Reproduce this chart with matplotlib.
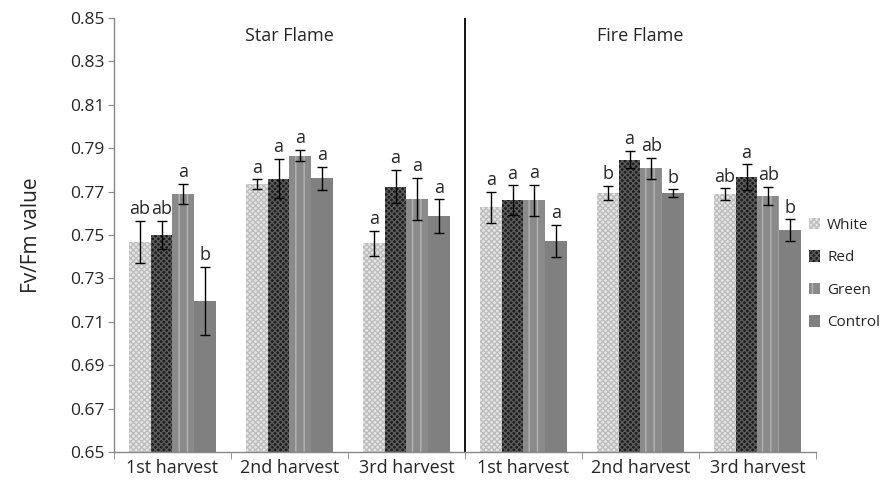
import matplotlib
matplotlib.use("Agg")
import matplotlib.pyplot as plt
import numpy as np

plt.rcParams['font.family'] = ['Open Sans', 'DejaVu Sans']
plt.rcParams['hatch.linewidth'] = 1.0

categories = ["1st harvest", "2nd harvest", "3rd harvest", "1st harvest", "2nd harvest", "3rd harvest"]
series = ["White", "Red", "Green", "Control"]
white = [0.7469, 0.7735, 0.7462, 0.7628, 0.7694, 0.7689]
red = [0.7501, 0.7760, 0.7723, 0.7660, 0.7847, 0.7767]
green = [0.7689, 0.7866, 0.7666, 0.7660, 0.7807, 0.7680]
control = [0.7196, 0.7761, 0.7588, 0.7474, 0.7694, 0.7523]
white_err = [0.0097, 0.0022, 0.0058, 0.0072, 0.0032, 0.0026]
red_err = [0.0065, 0.0090, 0.0077, 0.0069, 0.0040, 0.0059]
green_err = [0.0046, 0.0026, 0.0097, 0.0072, 0.0049, 0.0043]
control_err = [0.0157, 0.0052, 0.0077, 0.0074, 0.0017, 0.0049]
white_let = ["ab", "a", "a", "a", "b", "ab"]
red_let = ["ab", "a", "a", "a", "a", "a"]
green_let = ["a", "a", "a", "a", "ab", "ab"]
control_let = ["b", "a", "a", "a", "b", "b"]
cultivars = ["Star Flame", "Fire Flame"]

vals = [white, red, green, control]
errs = [white_err, red_err, green_err, control_err]
lets = [white_let, red_let, green_let, control_let]
styles = [
    dict(facecolor='#e6e6e6', edgecolor='#bdbdbd', hatch='xxxxxx'),
    dict(facecolor='#1c1c1c', edgecolor='#5a5a5a', hatch='xxxxxx'),
    dict(facecolor='#8a8a8a', edgecolor='#b4b4b4', hatch='||'),
    dict(facecolor='#808080', edgecolor='#808080', hatch=None),
]
txt = '#262626'

fig = plt.figure(figsize=(8.83, 4.87), dpi=100)
ax = fig.add_axes([0.129, 0.072, 0.795, 0.891])

x = np.arange(len(categories))
w = 0.185
for i, (v, e, l, st) in enumerate(zip(vals, errs, lets, styles)):
    pos = x + (i - 1.5) * w
    ax.bar(pos, v, width=w, bottom=0, linewidth=0, label=series[i], **st)
    ax.errorbar(pos, v, yerr=e, fmt='none', ecolor='black', elinewidth=1.0, capsize=3.5, capthick=1.0)
    for p, vv, ee, ll in zip(pos, v, e, l):
        ax.text(p, vv + ee + 0.0012, ll, ha='center', va='bottom', fontsize=13, color=txt)

ticks = np.arange(0.65, 0.8501, 0.02)
ax.set_ylim(0.65, 0.85)
ax.set_xlim(-0.5, len(categories) - 0.5)
ax.set_yticks(ticks)
ax.set_yticklabels([f"{t:.2f}" for t in ticks], fontsize=12.5, color=txt)
ax.set_xticks(x)
ax.set_xticklabels(categories, fontsize=13, color=txt)
ax.tick_params(axis='x', which='major', length=0, pad=5)
ax.set_xticks(np.arange(-0.5, len(categories), 1.0), minor=True)
ax.tick_params(axis='x', which='minor', length=5, color='#888888', direction='out')
ax.tick_params(axis='y', length=4, color='#888888', direction='out', pad=3)
for s in ['top', 'right']:
    ax.spines[s].set_visible(False)
for s in ['left', 'bottom']:
    ax.spines[s].set_color('#888888')
    ax.spines[s].set_linewidth(1.0)

ax.axvline(2.5, color='black', linewidth=1.3)
ax.set_ylabel("Fv/Fm value", fontsize=15, color=txt, labelpad=20)
ax.text(1.0, 0.8415, cultivars[0], ha='center', va='center', fontsize=13, color=txt)
ax.text(4.0, 0.8415, cultivars[1], ha='center', va='center', fontsize=13, color=txt)

leg = ax.legend(loc='center left', bbox_to_anchor=(0.99, 0.41), frameon=False, fontsize=11,
                handlelength=0.75, handleheight=0.75, handletextpad=0.45, labelspacing=1.15,
                borderaxespad=0, borderpad=0)
for t in leg.get_texts():
    t.set_color(txt)

fig.savefig("out.png", dpi=100)
